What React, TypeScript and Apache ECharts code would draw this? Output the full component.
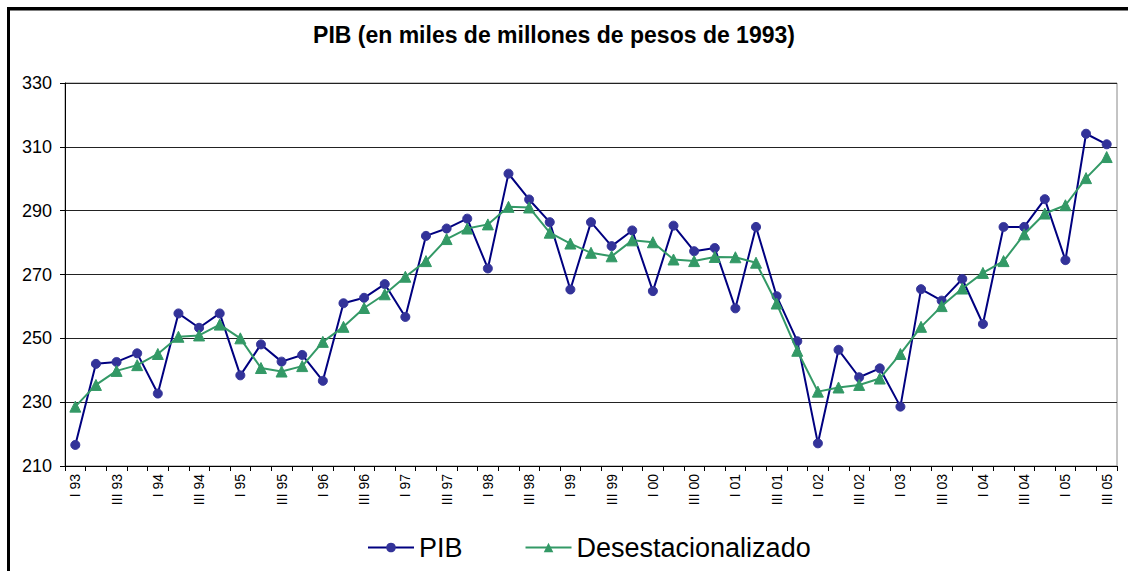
import React, { useEffect, useRef } from "react";
import * as echarts from "echarts";

const categories = [
  "I 93", "II 93", "III 93", "IV 93",
  "I 94", "II 94", "III 94", "IV 94",
  "I 95", "II 95", "III 95", "IV 95",
  "I 96", "II 96", "III 96", "IV 96",
  "I 97", "II 97", "III 97", "IV 97",
  "I 98", "II 98", "III 98", "IV 98",
  "I 99", "II 99", "III 99", "IV 99",
  "I 00", "II 00", "III 00", "IV 00",
  "I 01", "II 01", "III 01", "IV 01",
  "I 02", "II 02", "III 02", "IV 02",
  "I 03", "II 03", "III 03", "IV 03",
  "I 04", "II 04", "III 04", "IV 04",
  "I 05", "II 05", "III 05",
];

const pib = [
  216.6, 242.0, 242.6, 245.3, 232.7, 257.8, 253.3, 257.8, 238.4, 248.1,
  242.7, 244.8, 236.7, 261.0, 262.7, 267.0, 256.7, 282.1, 284.4, 287.5,
  271.9, 301.6, 293.5, 286.4, 265.3, 286.4, 278.9, 283.8, 264.8, 285.3,
  277.3, 278.3, 259.4, 284.9, 263.2, 249.1, 217.1, 246.4, 237.8, 240.6,
  228.6, 265.4, 261.8, 268.6, 254.5, 284.9, 284.9, 293.6, 274.5, 314.1, 310.8,
];

const desestacionalizado = [
  228.6, 235.4, 239.8, 241.6, 245.1, 250.5, 250.9, 254.3, 250.0, 240.7,
  239.6, 241.3, 248.9, 253.6, 259.5, 263.8, 269.3, 274.2, 281.1, 284.4,
  285.7, 291.2, 291.0, 283.1, 279.7, 276.8, 275.7, 280.7, 280.1, 274.7,
  274.2, 275.5, 275.4, 273.7, 260.9, 246.1, 233.3, 234.6, 235.4, 237.4,
  245.1, 253.6, 260.1, 265.6, 270.5, 274.2, 282.6, 289.1, 291.7, 300.2, 306.8,
];

const yMin = 210;
const yMax = 330;
const yStep = 20;

const titleText = "PIB (en miles de millones de pesos de 1993)";
const FONT = "Arial, 'Liberation Sans', sans-serif";

export default function App() {
  const ref = useRef<HTMLDivElement>(null);

  useEffect(() => {
    if (!ref.current) return;
    const chart = echarts.init(ref.current, undefined, { renderer: "svg" });
    chart.setOption({
      animation: false,
      backgroundColor: "#ffffff",
      textStyle: { fontFamily: FONT },
      graphic: [
        { type: "rect", shape: { x: 7, y: 7, width: 3, height: 564 }, style: { fill: "#000" }, silent: true },
        { type: "rect", shape: { x: 7, y: 7, width: 1121, height: 3.5 }, style: { fill: "#000" }, silent: true },
        {
          type: "text",
          x: 554,
          y: 35,
          style: {
            text: titleText,
            align: "center",
            verticalAlign: "middle",
            font: `bold 23px ${FONT}`,
            fill: "#000",
          },
        },
      ],
      legend: {
        left: 362,
        top: 529,
        itemWidth: 46,
        itemHeight: 12,
        itemGap: 62,
        textStyle: { fontSize: 27, color: "#000", fontFamily: FONT },
        data: ["PIB", "Desestacionalizado"],
      },
      grid: {
        left: 65,
        top: 83,
        width: 1052,
        height: 383,
        show: true,
        borderColor: "#888",
        borderWidth: 1,
        containLabel: false,
      },
      xAxis: {
        type: "category",
        data: categories,
        boundaryGap: true,
        axisLine: { lineStyle: { color: "#000", width: 1 } },
        axisTick: { show: true, interval: 0, length: 5, inside: false, lineStyle: { color: "#000" } },
        axisLabel: {
          interval: 1,
          rotate: 90,
          fontSize: 14,
          color: "#000",
          margin: 8,
          fontFamily: FONT,
        },
        splitLine: { show: false },
      },
      yAxis: {
        type: "value",
        min: yMin,
        max: yMax,
        interval: yStep,
        axisLine: { show: true, lineStyle: { color: "#000", width: 1 } },
        axisTick: { show: true, length: 5, lineStyle: { color: "#000" } },
        axisLabel: { fontSize: 18, color: "#000", margin: 13, fontFamily: FONT },
        splitLine: { show: true, lineStyle: { color: "#222", width: 1 } },
      },
      series: [
        {
          name: "PIB",
          type: "line",
          data: pib,
          symbol: "circle",
          symbolSize: 9,
          showAllSymbol: true,
          lineStyle: { color: "#000080", width: 2 },
          itemStyle: { color: "#333399", borderColor: "#333399" },
          z: 2,
        },
        {
          name: "Desestacionalizado",
          type: "line",
          data: desestacionalizado,
          symbol: "triangle",
          symbolSize: 11,
          showAllSymbol: true,
          lineStyle: { color: "#339966", width: 2 },
          itemStyle: { color: "#339966", borderColor: "#339966" },
          z: 3,
        },
      ],
    });
    return () => chart.dispose();
  }, []);

  return (
    <div
      ref={ref}
      style={{ position: "fixed", left: 0, top: 0, width: 1128, height: 571, background: "#fff" }}
    />
  );
}
